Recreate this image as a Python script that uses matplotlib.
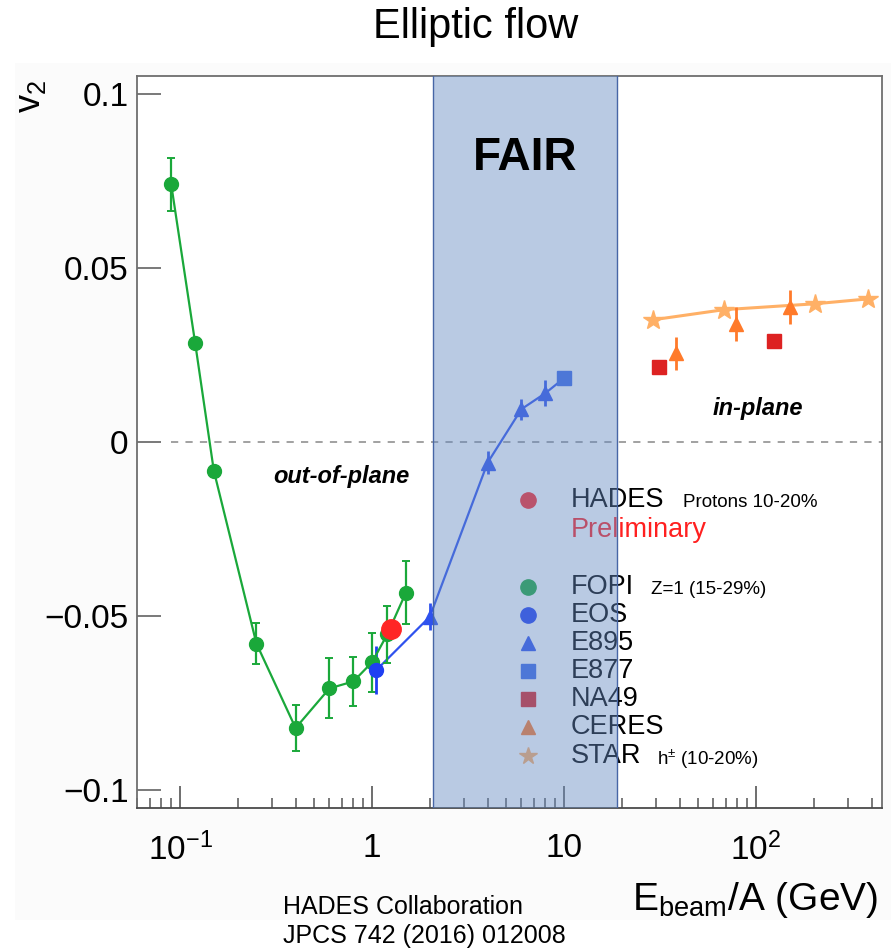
import numpy as np
import matplotlib
matplotlib.use('Agg')
import matplotlib.pyplot as plt
from matplotlib.patches import Rectangle
from matplotlib.ticker import FixedLocator, FixedFormatter, LogLocator, NullFormatter

plt.rcParams['font.family'] = ['Liberation Sans', 'DejaVu Sans']
plt.rcParams['mathtext.fontset'] = 'custom'
plt.rcParams['mathtext.rm'] = 'Liberation Sans'
plt.rcParams['mathtext.it'] = 'Liberation Sans:italic'
plt.rcParams['mathtext.bf'] = 'Liberation Sans:bold'

# FOPI, Z=1 (15-29%)
fopi_e = [0.09, 0.12, 0.15, 0.25, 0.40, 0.60, 0.80, 1.0, 1.2, 1.5]
fopi_v2 = [0.074, 0.0283, -0.0083, -0.058, -0.0823, -0.0709, -0.0689, -0.0634, -0.0554, -0.0434]
fopi_err = [0.0075, 0.0012, 0.0012, 0.006, 0.0067, 0.0086, 0.007, 0.0084, 0.0083, 0.009]

# HADES protons 10-20% (preliminary)
hades_e = [1.25]
hades_v2 = [-0.0537]

# EOS
eos_e = [1.05]
eos_v2 = [-0.0657]
eos_err = [0.0069]

# E895
e895_e = [2.0, 4.0, 6.0, 8.0]
e895_v2 = [-0.0503, -0.006, 0.0094, 0.014]
e895_err = [0.0039, 0.0033, 0.003, 0.0038]

# E877
e877_e = [10.0]
e877_v2 = [0.0183]

# NA49
na49_e = [31.2, 124.0]
na49_v2 = [0.0214, 0.0289]

# CERES
ceres_e = [38.3, 78.7, 150.0]
ceres_v2 = [0.0254, 0.034, 0.0389]
ceres_err = [0.0047, 0.0049, 0.0049]

# STAR h+- (10-20%)
star_e = [29.1, 68.1, 203.0, 383.0]
star_v2 = [0.0351, 0.038, 0.0397, 0.0411]

# FAIR energy range
fair_lo, fair_hi = 2.08, 18.9

yticks = [-0.1, -0.05, 0.0, 0.05, 0.1]
ytick_labels = ['\u22120.1', '\u22120.05', '0', '0.05', '0.1']
xticks = [0.1, 1, 10, 100]
xtick_labels = [r'10$^{\mathregular{-1}}$', '1', '10', r'10$^{\mathregular{2}}$']

legend_names = ['HADES', 'FOPI', 'EOS', 'E895', 'E877', 'NA49', 'CERES', 'STAR']

green = '#1aa83a'
blue = '#2f52ee'
c_eos = '#1f3ff2'
c_e877 = '#3b68e8'
c_na49 = '#dd2222'
c_ceres = '#ff7a2a'
c_star = '#ffb066'
c_hades = '#ff2626'

W, H = 891, 949
fig = plt.figure(figsize=(W / 100, H / 100), dpi=100)
fig.patch.set_facecolor('white')
fig.add_artist(Rectangle((15 / W, 1 - 920 / H), 1 - 15 / W, (920 - 63) / H,
                         transform=fig.transFigure, facecolor='#fbfbfb',
                         edgecolor='none', zorder=0))

ax = fig.add_axes([137 / W, 1 - 808 / H, 745 / W, 732 / H])
ax.set_facecolor('white')
ax.set_xscale('log')
ax.set_xlim(0.0597, 453)
ax.set_ylim(-0.1053, 0.1052)

# zero line
ax.plot([0.09, 453], [0, 0], ls=(0, (4, 4)), color='#9a9a9a', lw=1.3, zorder=1)

# FOPI
ax.errorbar(fopi_e, fopi_v2, yerr=fopi_err, color=green, marker='o', ms=10,
            lw=1.6, elinewidth=1.6, capsize=3, capthick=1.4, zorder=3)

# EOS -> E895 -> E877 connecting line
ax.plot(eos_e + e895_e + e877_e, eos_v2 + e895_v2 + e877_v2, color=blue, lw=1.6, zorder=2)
ax.errorbar(eos_e, eos_v2, yerr=eos_err, fmt='o', color=c_eos, ms=10,
            elinewidth=2, zorder=3)
ax.errorbar(e895_e, e895_v2, yerr=e895_err, fmt='^', color=blue, ms=10,
            elinewidth=2, zorder=3)
ax.plot(e877_e, e877_v2, 's', color=c_e877, ms=10, zorder=3)

# HADES
ax.plot(hades_e, hades_v2, 'o', color=c_hades, ms=14, zorder=4)

# SPS / RHIC
ax.plot(na49_e, na49_v2, 's', color=c_na49, ms=10, zorder=3)
ax.errorbar(ceres_e, ceres_v2, yerr=ceres_err, fmt='^', color=c_ceres, ms=10,
            elinewidth=2, zorder=3)
ax.plot(star_e, star_v2, '-', color=c_star, lw=2.2, zorder=2)
ax.plot(star_e, star_v2, '*', color=c_star, ms=15, zorder=3)

# text labels
ax.text(0.1826, 0.444, 'out-of-plane', transform=ax.transAxes, fontsize=17,
        fontweight='bold', fontstyle='italic', ha='left', va='baseline')
ax.text(0.773, 0.537, 'in-plane', transform=ax.transAxes, fontsize=17,
        fontweight='bold', fontstyle='italic', ha='left', va='baseline')

# legend, drawn by hand
def ay(py):
    return (808 - py) / 732

mx, tx = (528 - 137) / 745, (571 - 137) / 745
rows_y = [507, 594, 622, 650, 678, 706, 734, 763]
markers = ['o', 'o', 'o', '^', 's', 's', '^', '*']
mcolors = [c_hades, green, c_eos, blue, c_e877, c_na49, c_ceres, c_star]
msizes = [11, 11, 11, 10, 10, 10, 10, 13]
for name, py, m, c, s in zip(legend_names, rows_y, markers, mcolors, msizes):
    ax.plot([mx], [ay(py - 7)], m, color=c, ms=s, transform=ax.transAxes,
            clip_on=False, zorder=4)
    ax.text(tx, ay(py), name, transform=ax.transAxes, fontsize=19.5,
            ha='left', va='baseline', color='black', zorder=4)
ax.text(tx, ay(537), 'Preliminary', transform=ax.transAxes, fontsize=19.5,
        ha='left', va='baseline', color='#ff2020', zorder=4)
ax.text((683 - 137) / 745, ay(507), 'Protons 10-20%', transform=ax.transAxes,
        fontsize=13.5, ha='left', va='baseline', zorder=4)
ax.text((651 - 137) / 745, ay(594), 'Z=1 (15-29%)', transform=ax.transAxes,
        fontsize=13.5, ha='left', va='baseline', zorder=4)
ax.text((657 - 137) / 745, ay(765), r'h$^{\pm}$ (10-20%)', transform=ax.transAxes,
        fontsize=13.5, ha='left', va='baseline', zorder=4)

# FAIR band on top
ax.axvspan(fair_lo, fair_hi, facecolor='#648ac3', alpha=0.45, edgecolor='none', zorder=6)
for xe in (fair_lo, fair_hi):
    ax.axvline(xe, color='#4766a6', lw=1.0, zorder=6)
ax.text(np.sqrt(fair_lo * fair_hi), 0.0781, 'FAIR', fontsize=33, fontweight='bold',
        ha='center', va='baseline', zorder=10)

# axes styling
for side in ['left', 'right', 'top', 'bottom']:
    ax.spines[side].set_color('#6e6e6e')
    ax.spines[side].set_linewidth(1.3)
ax.spines['bottom'].set_color('#4a4a4a')

ax.yaxis.set_major_locator(FixedLocator(yticks))
ax.yaxis.set_major_formatter(FixedFormatter(ytick_labels))
ax.xaxis.set_major_locator(FixedLocator(xticks))
ax.xaxis.set_major_formatter(FixedFormatter(xtick_labels))
ax.xaxis.set_minor_locator(LogLocator(base=10, subs=np.arange(2, 10)))
ax.xaxis.set_minor_formatter(NullFormatter())
ax.tick_params(axis='y', which='major', direction='in', length=17, width=1.3,
               color='#6e6e6e', labelsize=24, pad=6)
ax.tick_params(axis='y', which='minor', length=0)
ax.tick_params(axis='x', which='major', direction='in', length=16, width=1.2,
               color='#555555', labelsize=24, pad=18)
ax.tick_params(axis='x', which='minor', direction='in', length=7, width=1.1,
               color='#555555')

# titles and labels
fig.text(476 / W, 1 - 38 / H, 'Elliptic flow', fontsize=30, ha='center', va='baseline')
fig.text(30 / W, 1 - 96 / H, r'v$_{\mathregular{2}}$', fontsize=26, rotation=90,
         ha='center', va='center')
fig.text(878 / W, 1 - 910 / H, r'E$_{\mathregular{beam}}$/A (GeV)', fontsize=28,
         ha='right', va='baseline')
fig.text(283 / W, 1 - 914 / H, 'HADES Collaboration', fontsize=18, ha='left', va='baseline')
fig.text(283 / W, 1 - 943 / H, 'JPCS 742 (2016) 012008', fontsize=18, ha='left', va='baseline')

fig.savefig('out.png', dpi=100)
